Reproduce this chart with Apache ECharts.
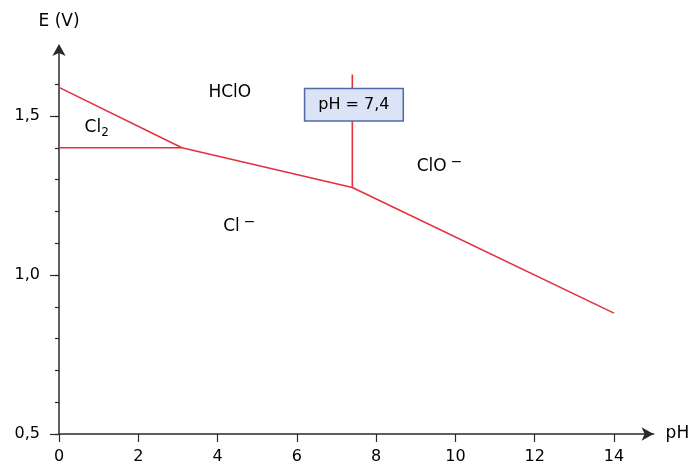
<!DOCTYPE html>
<html>
<head>
<meta charset="utf-8">
<script src="https://cdn.jsdelivr.net/npm/echarts@6/dist/echarts.min.js"></script>
<style>
  html, body { margin: 0; padding: 0; background: #fff; }
  #chart { width: 693px; height: 465px; }
</style>
</head>
<body>
<div id="chart"></div>
<script>
// boundary lines of the diagram, points are [pH, E in V]
const cl2HcloLine = [[0, 1.59], [3.1, 1.40]];
const cl2ClLine = [[0, 1.40], [3.1, 1.40]];
const hcloClLine = [[3.1, 1.40], [7.4, 1.275]];
const cloClLine = [[7.4, 1.275], [14, 0.88]];
const hcloCloLine = [[7.4, 1.275], [7.4, 1.63]];

// species names (rich text) and where they sit, [pH, E]
const speciesText = ['{t|HClO}', '{t|Cl}{sub|2}', '{t|Cl}{sup|−}', '{t|ClO}{sup|−}'];
const speciesPos = [[4.31, 1.572], [0.95, 1.462], [4.55, 1.152], [9.6, 1.34]];

const pkaText = 'pH = 7,4';
const pkaPos = [7.44, 1.535];

const RED = '#e2303d';
const AXIS = '#2a2a2a';
const FONT = 'DejaVu Sans';

const chart = echarts.init(document.getElementById('chart'));

const boundary = (data) => ({
    type: 'line',
    xAxisIndex: 0,
    yAxisIndex: 0,
    data: data,
    symbol: 'none',
    silent: true,
    z: 3,
    lineStyle: { color: RED, width: 1.6 }
});

const tickStyle = { color: AXIS, width: 1.2 };
const labelText = { color: '#000', fontFamily: FONT, fontSize: 16 };

chart.setOption({
    animation: false,
    backgroundColor: '#fff',
    grid: [
        // main grid, carries the lines and the arrows
        { left: 59, width: 594.6, bottom: 31, height: 388 },
        // minor ticks every 0.1 V
        { left: 59, width: 555, bottom: 31, height: 349.8 },
        // major ticks + labels
        { left: 59, width: 555, bottom: 31, height: 318 }
    ],
    xAxis: [
        {
            gridIndex: 0, type: 'value', min: 0, max: 15,
            axisLine: {
                onZero: false, symbol: ['none', 'arrow'], symbolSize: [10, 12],
                lineStyle: { color: AXIS, width: 1.5 }
            },
            axisTick: { show: false },
            axisLabel: { show: false },
            splitLine: { show: false },
            name: 'pH', nameLocation: 'end', nameGap: 12,
            nameTextStyle: { ...labelText, fontSize: 17 }
        },
        { gridIndex: 1, type: 'value', min: 0, max: 14, show: false },
        {
            gridIndex: 2, type: 'value', min: 0, max: 14, interval: 2,
            axisLine: { show: false, onZero: false },
            axisTick: { length: 8, lineStyle: tickStyle },
            axisLabel: { ...labelText, margin: 15 },
            splitLine: { show: false }
        }
    ],
    yAxis: [
        {
            gridIndex: 0, type: 'value', min: 0.5, max: 1.72,
            axisLine: {
                onZero: false, symbol: ['none', 'arrow'], symbolSize: [10, 12],
                symbolOffset: [0, 2],
                lineStyle: { color: AXIS, width: 1.5 }
            },
            axisTick: { show: false },
            axisLabel: { show: false },
            splitLine: { show: false },
            name: 'E (V)', nameLocation: 'end', nameGap: 16,
            nameTextStyle: { ...labelText, fontSize: 17 }
        },
        {
            gridIndex: 1, type: 'value', min: 0.5, max: 1.6, interval: 0.1,
            axisLine: { show: false, onZero: false },
            axisTick: { length: 4, lineStyle: tickStyle },
            axisLabel: { show: false },
            splitLine: { show: false }
        },
        {
            gridIndex: 2, type: 'value', min: 0.5, max: 1.5, interval: 0.5,
            axisLine: { show: false, onZero: false },
            axisTick: { length: 9, lineStyle: tickStyle },
            axisLabel: {
                ...labelText, margin: 19,
                formatter: (v) => v.toFixed(1).replace('.', ',')
            },
            splitLine: { show: false }
        }
    ],
    series: [
        boundary(cl2HcloLine),
        boundary(cl2ClLine),
        boundary(hcloClLine),
        boundary(cloClLine),
        boundary(hcloCloLine),
        {
            type: 'scatter',
            xAxisIndex: 0, yAxisIndex: 0,
            symbolSize: 0,
            silent: true,
            z: 5,
            itemStyle: { opacity: 1 },
            data: speciesPos.map((p, i) => ({ value: p, label: { formatter: speciesText[i] } })),
            label: {
                show: true,
                position: 'inside',
                rich: {
                    t: { ...labelText, fontSize: 17, lineHeight: 22 },
                    sub: { ...labelText, fontSize: 12, lineHeight: 12, verticalAlign: 'bottom' },
                    sup: { ...labelText, fontSize: 14, lineHeight: 10, verticalAlign: 'top', padding: [0, 0, 0, 4] }
                }
            }
        },
        {
            type: 'scatter',
            xAxisIndex: 0, yAxisIndex: 0,
            symbolSize: 0,
            silent: true,
            z: 6,
            itemStyle: { opacity: 1 },
            data: [pkaPos],
            label: {
                show: true,
                position: 'inside',
                formatter: pkaText,
                ...labelText,
                lineHeight: 20,
                backgroundColor: '#dae4f6',
                borderColor: '#5268a4',
                borderWidth: 1.5,
                padding: [6, 13, 5, 13]
            }
        }
    ]
});
</script>
</body>
</html>
